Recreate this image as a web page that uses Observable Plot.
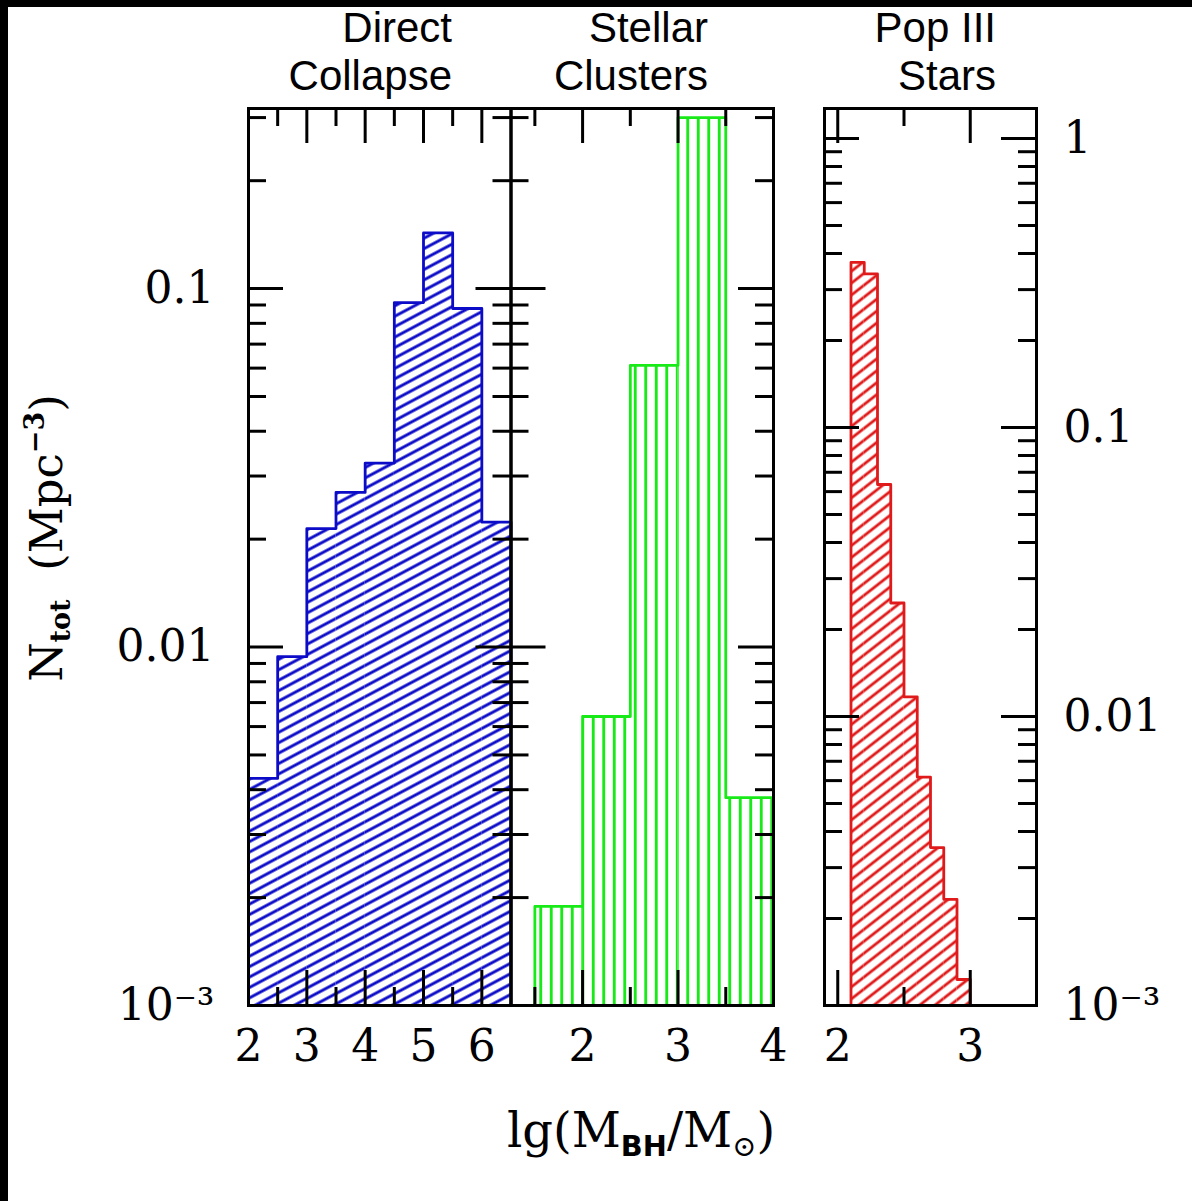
<!DOCTYPE html>
<html>
<head>
<meta charset="utf-8">
<script src="https://cdn.jsdelivr.net/npm/d3@7"></script>
<script src="https://cdn.jsdelivr.net/npm/@observablehq/plot@0.6"></script>
<style>
  html, body { margin: 0; padding: 0; background: #fff; overflow: hidden; }
  #page { position: relative; width: 1192px; height: 1201px; background: #fff; overflow: hidden; }
  #page > svg.plotsvg, #page svg[class^="plot"] { position: absolute; left: 0; top: 0; }
  .bt { position: absolute; left: 0; top: 0; width: 1192px; height: 7px; background: #000; z-index: 5; }
  .bl { position: absolute; left: 0; top: 0; width: 8px; height: 1201px; background: #000; z-index: 5; }
  .title { position: absolute; font-family: "Liberation Sans", Arial, sans-serif; font-size: 42px; line-height: 48px; text-align: right; color: #000; white-space: nowrap; z-index: 4; }
  .axlab { position: absolute; font-family: "DejaVu Serif", serif; font-size: 45px; line-height: 1; color: #000; white-space: nowrap; z-index: 4; }
  .axlab sub, .axlab sup { font-size: 0.6em; line-height: 0; position: relative; }
  .axlab sub { vertical-align: baseline; top: 0.3em; }
  .axlab sup { vertical-align: baseline; top: -0.65em; }
  .sb { font-family: "DejaVu Sans", sans-serif; font-weight: bold; }
</style>
</head>
<body>
<div id="page">
  <svg width="0" height="0" style="position:absolute;left:0;top:0">
    <defs>
      <pattern id="hatchBlue" patternUnits="userSpaceOnUse" width="24" height="9.2" patternTransform="rotate(-28)">
        <line x1="-2" y1="4.6" x2="26" y2="4.6" stroke="#0c0cc8" stroke-width="2.9"></line>
      </pattern>
      <pattern id="hatchGreen" patternUnits="userSpaceOnUse" width="10.5" height="20">
        <line x1="5.25" y1="-2" x2="5.25" y2="22" stroke="#18ea18" stroke-width="2.9"></line>
      </pattern>
      <pattern id="hatchRed" patternUnits="userSpaceOnUse" width="24" height="9.4" patternTransform="rotate(-38)">
        <line x1="-2" y1="4.7" x2="26" y2="4.7" stroke="#e01a1a" stroke-width="2.8"></line>
      </pattern>
    </defs>
  </svg>
  <div class="bt"></div>
  <div class="bl"></div>
  <div class="title" style="right:740px;top:4px;">Direct<br>Collapse</div>
  <div class="title" style="right:484px;top:4px;">Stellar<br>Clusters</div>
  <div class="title" style="right:196px;top:4px;">Pop III<br>Stars</div>
  <div class="axlab" style="left:46px;top:538px;transform:translate(-50%,-50%) rotate(-90deg);">N<sub style="font-weight:bold">tot</sub>&nbsp;&nbsp;(Mpc<sup style="font-weight:bold">−3</sup>)</div>
  <div class="axlab" style="left:641px;top:1106px;font-size:48px;transform:translateX(-50%);">lg(M<sub class="sb">BH</sub>/M<sub>⊙</sub>)</div>
</div>
<script>
// ---------------- DATA ----------------
// Direct Collapse histogram (bin left edges in lg M, bin width 0.5)
const dcBinLeft = [2.0, 2.5, 3.0, 3.5, 4.0, 4.5, 5.0, 5.5, 6.0];
const dcValues  = [0.0043, 0.0094, 0.0214, 0.0270, 0.0326, 0.0914, 0.143, 0.088, 0.0223];
const dcBinWidth = 0.5;

// Stellar Clusters histogram (bin width 0.5)
const scBinLeft = [1.5, 2.0, 2.5, 3.0, 3.5];
const scValues  = [0.00189, 0.0064, 0.0611, 0.300, 0.0038];
const scBinWidth = 0.5;

// Pop III Stars histogram (bin width 0.1)
const p3BinLeft = [2.1, 2.2, 2.3, 2.4, 2.5, 2.6, 2.7, 2.8, 2.9];
const p3Values  = [0.373, 0.340, 0.0635, 0.0247, 0.0117, 0.00617, 0.00352, 0.00233, 0.00123];
const p3BinWidth = 0.1;

// Axis domains
const dcXDomain = [2, 6.5];
const scXDomain = [1.25, 4];
const p3XDomain = [1.9, 3.5];
const leftYDomain = [0.001, 0.318];
const p3YDomain = [0.001, 1.27];

// Tick values and labels
const dcXTicks = [2, 3, 4, 5, 6];
const dcXLabels = ["2", "3", "4", "5", "6"];
const dcXMinor = [2.5, 3.5, 4.5, 5.5];
const scXTicks = [2, 3, 4];
const scXLabels = ["2", "3", "4"];
const scXMinor = [1.5, 2.5, 3.5];
const p3XTicks = [2, 3];
const p3XLabels = ["2", "3"];
const p3XMinor = [2.5];
const leftYTicks = [0.001, 0.01, 0.1];
const leftYLabels = ["10⁻³", "0.01", "0.1"];
const p3YTicks = [0.001, 0.01, 0.1, 1];
const p3YLabels = ["10⁻³", "0.01", "0.1", "1"];
const decades = [0.001, 0.01, 0.1, 1];
const minorMultipliers = [2, 3, 4, 5, 6, 7, 8, 9];

// ---------------- LAYOUT / STYLE ----------------
const W = 1192, H = 1201;
const frameTop = 108, frameBottom = 1005;
const majorLen = 35, minorLen = 18;
const tickStroke = 3;

function minorY(domain) {
  const out = [];
  for (const d of decades) for (const m of minorMultipliers) {
    const v = d * m;
    if (v > domain[0] && v < domain[1]) out.push(v);
  }
  return out;
}

function panel(cfg) {
  const fw = cfg.right - cfg.left;
  const fh = frameBottom - frameTop;
  const base = cfg.yDomain[0];
  const bins = cfg.binLeft.map((x, i) => ({x1: x, x2: x + cfg.binWidth, v: cfg.values[i]}));
  const last = bins[bins.length - 1];
  const outline = [{x: bins[0].x1, v: base}]
    .concat(bins.map(b => ({x: b.x1, v: b.v})))
    .concat([{x: last.x2, v: last.v}, {x: last.x2, v: base}]);
  const inX = v => v > cfg.xDomain[0] && v < cfg.xDomain[1];
  const inY = v => v > cfg.yDomain[0] && v < cfg.yDomain[1];
  const xMaj = cfg.xTicks.filter(inX);
  const xMin = cfg.xMinor.filter(inX);
  const yMaj = cfg.yTicks.filter(inY);
  const yMin = minorY(cfg.yDomain);
  const tk = {stroke: "black", strokeWidth: tickStroke};
  const marks = [
    Plot.rect(bins, {x1: "x1", x2: "x2", y1: base, y2: "v", fill: cfg.fill}),
    Plot.line(outline, {x: "x", y: "v", curve: "step-after", stroke: cfg.color, strokeWidth: 2.8}),
    // y ticks, inward on both sides
    Plot.ruleY(yMaj, {...tk, insetRight: fw - majorLen}),
    Plot.ruleY(yMaj, {...tk, insetLeft: fw - majorLen}),
    Plot.ruleY(yMin, {...tk, insetRight: fw - minorLen}),
    Plot.ruleY(yMin, {...tk, insetLeft: fw - minorLen}),
    // x ticks, inward top and bottom
    Plot.ruleX(xMaj, {...tk, insetBottom: fh - majorLen}),
    Plot.ruleX(xMaj, {...tk, insetTop: fh - majorLen}),
    Plot.ruleX(xMin, {...tk, insetBottom: fh - minorLen}),
    Plot.ruleX(xMin, {...tk, insetTop: fh - minorLen}),
    Plot.frame({stroke: "black", strokeWidth: 3}),
    Plot.axisX(cfg.xTicks, {anchor: "bottom", tickSize: 0, tickPadding: 24, label: null,
      tickFormat: d => cfg.xLabels[cfg.xTicks.indexOf(d)], fontSize: 44, fontFamily: "DejaVu Serif"})
  ];
  if (cfg.yAnchor) {
    marks.push(Plot.axisY(cfg.yTicks, {anchor: cfg.yAnchor, tickSize: 0, tickPadding: cfg.yPad, label: null,
      tickFormat: d => cfg.yLabels[cfg.yTicks.indexOf(d)], fontSize: 44, fontFamily: "DejaVu Serif"}));
  }
  const svg = Plot.plot({
    width: W, height: H,
    marginLeft: cfg.left, marginRight: W - cfg.right,
    marginTop: frameTop, marginBottom: H - frameBottom,
    x: {domain: cfg.xDomain, label: null},
    y: {type: "log", domain: cfg.yDomain, label: null, axis: cfg.yAnchor ? undefined : null},
    style: {background: "transparent", fontFamily: "DejaVu Serif", fontSize: "44px", color: "black", overflow: "visible", position: "absolute", left: "0px", top: "0px", maxWidth: "none"},
    marks
  });
  svg.classList.add("plotsvg");
  document.getElementById("page").appendChild(svg);
}

panel({left: 248, right: 510.5, xDomain: dcXDomain, yDomain: leftYDomain,
  binLeft: dcBinLeft, values: dcValues, binWidth: dcBinWidth,
  color: "#0c0cc8", fill: "url(#hatchBlue)",
  xTicks: dcXTicks, xLabels: dcXLabels, xMinor: dcXMinor,
  yTicks: leftYTicks, yLabels: leftYLabels, yAnchor: "left", yPad: 34});

panel({left: 510.5, right: 773, xDomain: scXDomain, yDomain: leftYDomain,
  binLeft: scBinLeft, values: scValues, binWidth: scBinWidth,
  color: "#18ea18", fill: "url(#hatchGreen)",
  xTicks: scXTicks, xLabels: scXLabels, xMinor: scXMinor,
  yTicks: leftYTicks, yLabels: leftYLabels, yAnchor: null});

panel({left: 824, right: 1036, xDomain: p3XDomain, yDomain: p3YDomain,
  binLeft: p3BinLeft, values: p3Values, binWidth: p3BinWidth,
  color: "#e01a1a", fill: "url(#hatchRed)",
  xTicks: p3XTicks, xLabels: p3XLabels, xMinor: p3XMinor,
  yTicks: p3YTicks, yLabels: p3YLabels, yAnchor: "right", yPad: 27});
</script>
</body>
</html>
